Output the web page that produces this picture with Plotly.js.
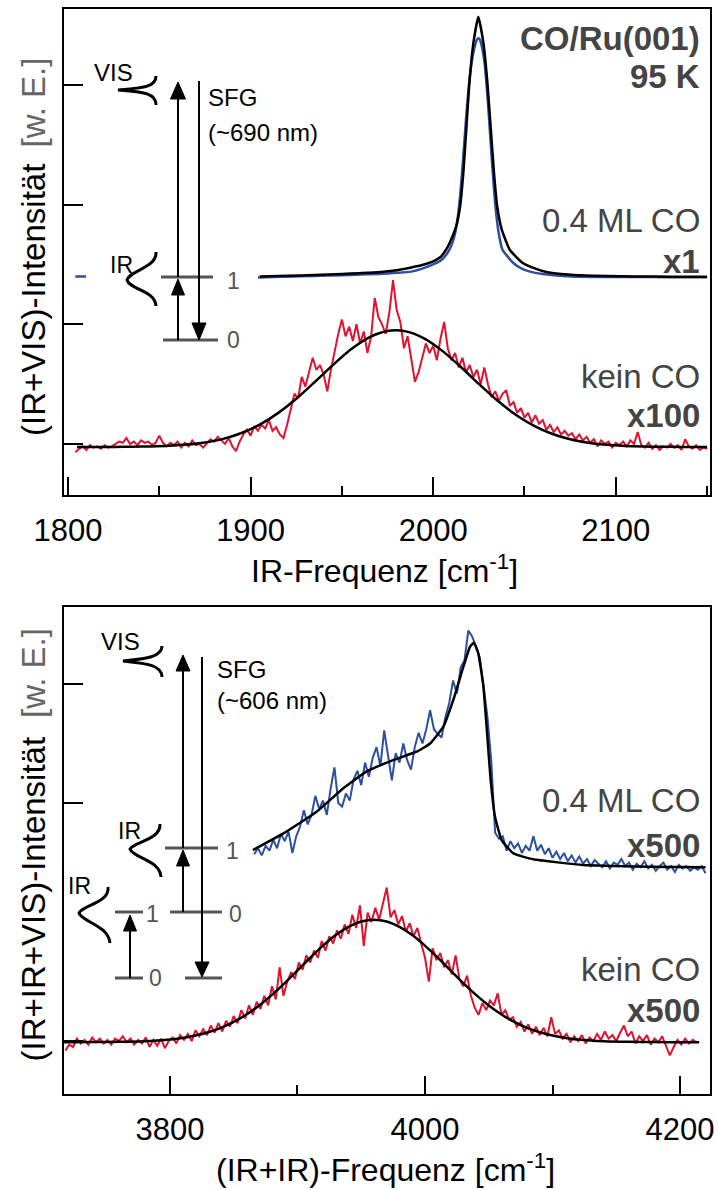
<!DOCTYPE html>
<html>
<head>
<meta charset="utf-8">
<script src="https://cdn.plot.ly/plotly-3.0.1.min.js"></script>
<style>
  html, body { margin: 0; padding: 0; background: #fff; }
  #chart { width: 718px; height: 1190px; }
</style>
</head>
<body>
<div id="chart"></div>
<script>
// ===== Upper panel: (IR+VIS) SFG spectra, IR-Frequenz in cm^-1 =====
// kein CO (x100), sampled every 2 cm^-1 from 1804
const redTopStart = 1804, redTopStep = 2;
const redTopY = [
  -0.07,-0.04,-0.02,-0.05,-0.01,-0.03,-0.02,-0.04,-0.01,-0.03,-0.02,0.0,0.02,0.01,0.05,0.0,0.02,-0.01,0.03,0.01,
  0.02,-0.01,0.01,0.07,0.01,-0.02,0.01,-0.01,0.02,-0.03,0.01,-0.02,0.03,-0.01,
  0.0,-0.03,0.01,0.04,0.02,0.06,0.03,0.0,0.05,-0.02,-0.06,0.02,0.08,0.12,0.07,0.15,0.11,0.16,0.13,0.2,0.11,0.14,0.08,0.05,0.16,
  0.3,0.42,0.38,0.56,0.48,0.6,0.72,0.62,0.66,0.58,0.44,0.62,0.78,0.92,1.04,0.9,0.98,0.86,1.0,0.84,0.94,0.76,0.9,1.22,1.06,1.0,0.92,1.1,1.37,1.12,1.02,0.8,0.9,0.72,0.52,
  0.6,0.72,0.84,0.76,0.82,0.7,0.88,1.02,0.8,0.7,0.76,0.64,0.72,0.6,0.66,0.56,0.62,0.5,0.64,0.5,0.39,0.44,0.36,0.42,0.45,0.32,0.35,0.26,0.3,0.22,0.26,0.18,0.24,0.17,0.2,
  0.12,0.16,0.1,0.14,0.08,0.11,0.07,0.09,0.04,0.08,0.03,0.06,0.01,0.04,-0.02,0.03,0.0,0.02,-0.03,0.01,-0.01,0.02,-0.02,0.03,0.0,0.1,-0.01,-0.03,0.01,-0.04,-0.01,-0.05,-0.02,-0.03,0.0,-0.03,-0.01,-0.05,0.04,-0.02,-0.04,-0.01,-0.05,-0.03,-0.04
];
// Gaussian fit of kein CO
const fitRedTopX = [1805,1815,1825,1835,1845,1855,1865,1875,1885,1895,1905,1915,1925,1935,1945,1955,1965,1975,1985,1995,
  2005,2015,2025,2035,2045,2055,2065,2075,2085,2095,2105,2115,2125,2135,2145,2150];
const fitRedTopY = [-0.025,-0.025,-0.024,-0.023,-0.02,-0.015,-0.005,0.013,0.043,0.092,0.162,0.258,0.378,0.516,0.659,0.791,0.891,0.944,0.941,0.883,
  0.778,0.645,0.502,0.365,0.247,0.154,0.086,0.04,0.011,-0.007,-0.016,-0.021,-0.023,-0.024,-0.025,-0.025];
// 0.4 ML CO (x1)
const blueTopX = [1804,1810,1830,1860,1890,1905,1920,1935,1950,1960,1970,1980,1988,1994,2000,2004,2008,2010,2012,2014,
  2016,2018,2020,2022,2024,2025,2026,2028,2030,2032,2034,2036,2038,2040,2044,2048,2053,2060,2066,2076,2090,2110,2130,2150];
const blueTopY = [1.40,1.40,1.39,1.39,1.395,1.392,1.398,1.404,1.41,1.415,1.42,1.43,1.44,1.465,1.50,1.53,1.60,1.66,1.76,1.96,
  2.30,2.72,3.06,3.27,3.38,3.39,3.36,3.20,2.85,2.40,2.00,1.75,1.62,1.58,1.51,1.47,1.44,1.42,1.41,1.40,1.396,1.395,1.394,1.393];
// Fit of 0.4 ML CO
const fitBlueTopX = [1905,1920,1935,1950,1960,1970,1980,1988,1994,2000,2004,2006.5,2009,2012.5,2014.7,2016.5,2018,2019.8,2022,2024.7,
  2027.5,2029.7,2031.7,2033.3,2035.1,2037.6,2042,2049,2056,2062,2070,2080,2095,2110,2130,2150];
const fitBlueTopY = [1.40,1.405,1.412,1.42,1.427,1.435,1.452,1.475,1.495,1.525,1.562,1.61,1.679,1.813,1.98,2.264,2.598,3.013,3.348,3.57,
  3.35,3.016,2.598,2.264,1.98,1.788,1.621,1.512,1.465,1.437,1.42,1.41,1.403,1.40,1.398,1.397];

// ===== Lower panel: (IR+IR+VIS) spectra, (IR+IR)-Frequenz in cm^-1 =====
// kein CO (x500), sampled every 3 cm^-1 from 3718
const redBotStart = 3718, redBotStep = 3;
const redBotY = [
  -0.08,-0.03,-0.05,0.02,-0.02,0.01,-0.03,0.03,-0.01,0.02,-0.02,0.01,-0.03,0.02,0.0,0.04,-0.01,0.02,-0.03,0.01,
  -0.02,0.03,-0.05,0.01,-0.04,0.02,-0.06,0.0,0.03,-0.02,0.05,0.01,0.06,0.0,0.09,0.04,0.1,0.05,0.13,0.07,
  0.15,0.08,0.17,0.12,0.21,0.15,0.26,0.19,0.3,0.22,0.33,0.27,0.38,0.3,0.46,0.35,0.62,0.38,0.5,0.58,
  0.52,0.66,0.6,0.72,0.66,0.76,0.7,0.84,0.76,0.88,0.82,0.93,0.86,0.98,0.9,1.06,0.95,1.14,0.8,1.08,
  1.0,1.12,1.02,1.16,1.29,1.04,1.1,0.98,1.05,0.92,0.99,0.88,0.95,0.82,0.7,0.5,0.78,0.68,0.74,0.62,
  0.68,0.56,0.72,0.52,0.46,0.55,0.38,0.28,0.22,0.32,0.26,0.34,0.3,0.4,0.22,0.26,0.18,0.2,0.12,0.16,
  0.08,0.14,0.06,0.12,0.05,0.11,0.04,0.2,0.06,0.09,0.02,0.06,-0.01,0.04,0.0,0.05,-0.02,0.03,0.0,0.06,
  0.01,0.08,0.02,0.05,0.0,0.07,0.13,0.04,0.08,-0.02,0.04,0.0,0.05,-0.03,0.02,-0.01,0.04,-0.04,-0.12,-0.05,
  0.01,-0.03,0.02,-0.02,0.01,-0.01
];
// Gaussian fit of kein CO
const fitRedBotX = [3717,3740,3760,3780,3790,3800,3810,3820,3830,3840,3850,3860,3870,3880,3890,3900,3910,3920,3930,3940,3950,3960,
  3970,3980,3990,4000,4010,4020,4030,4040,4050,4060,4070,4080,4090,4100,4110,4120,4130,4140,4160,4180,4200,4215];
const fitRedBotY = [-0.01,-0.009,-0.007,-0.002,0.004,0.013,0.026,0.046,0.074,0.111,0.161,0.223,0.299,0.388,0.487,0.593,0.70,0.802,0.891,0.96,1.005,1.02,
  1.005,0.96,0.891,0.802,0.70,0.593,0.487,0.388,0.299,0.223,0.161,0.111,0.074,0.046,0.026,0.013,0.004,-0.002,-0.007,-0.009,-0.01,-0.01];
// 0.4 ML CO (x500), sampled every 3 cm^-1 from 3866
const blueBotStart = 3866, blueBotStep = 3;
const blueBotY = [
  1.57,1.62,1.56,1.64,1.6,1.69,1.62,1.74,1.68,1.76,1.58,1.72,1.8,1.94,1.82,1.9,2.06,1.95,2.02,1.9,
  2.12,2.3,2.0,1.97,2.08,2.02,2.2,2.27,2.15,2.34,2.22,2.38,2.47,2.31,2.61,2.4,2.19,2.42,2.34,2.5,
  2.36,2.28,2.47,2.59,2.5,2.62,2.78,2.62,2.58,2.55,2.72,2.84,3.03,2.92,3.14,3.2,3.45,3.4,3.3,3.22,
  2.98,2.72,2.35,1.75,1.7,1.72,1.6,1.68,1.62,1.66,1.58,1.64,1.6,1.72,1.6,1.65,1.57,1.62,1.54,1.59,
  1.53,1.58,1.51,1.56,1.5,1.55,1.49,1.53,1.47,1.52,1.49,1.46,1.51,1.45,1.5,1.48,1.53,1.47,1.5,1.44,
  1.49,1.46,1.51,1.45,1.48,1.43,1.47,1.5,1.44,1.47,1.42,1.48,1.45,1.47,1.43,1.46,1.44,1.47,1.41
];
// Fit of 0.4 ML CO
const fitBlueBotX = [3865,3889,3915,3936,3954,3975,3993.5,4004,4014.4,4022.2,4030.1,4035.3,4038.4,4041.8,4045.8,4048.9,4051.5,4054.9,
  4060.1,4069.3,4085,4124,4176,4220];
const fitBlueBotY = [1.605,1.745,1.927,2.124,2.263,2.361,2.431,2.5,2.641,2.866,3.145,3.313,3.347,3.258,2.977,2.557,2.193,1.885,
  1.689,1.577,1.527,1.479,1.465,1.46];

// ===== styling =====
const FONT = 'Liberation Sans, Arial, Helvetica, sans-serif';
const RED = '#e0122e';
const BLUE = '#2c4f9e';
const INK = '#000';
const GREY = '#444';
const LEVEL = '#555';

const W = 718, H = 1190;
const X = p => p / W;          // pixel column -> paper x
const Y = p => 1 - p / H;      // pixel row    -> paper y

function grid(start, step, n) {
  const out = [];
  for (let i = 0; i < n; i++) out.push(start + step * i);
  return out;
}

function lineTrace(x, y, xa, ya, color, width, smooth) {
  return {
    x, y, xaxis: xa, yaxis: ya, type: 'scatter', mode: 'lines', hoverinfo: 'skip',
    line: Object.assign({ color, width }, smooth ? { shape: 'spline', smoothing: smooth } : {})
  };
}

const traces = [
  lineTrace(grid(redTopStart, redTopStep, redTopY.length), redTopY, 'x', 'y', RED, 2),
  lineTrace(fitRedTopX, fitRedTopY, 'x', 'y', INK, 2.5, 0.8),
  lineTrace(blueTopX, blueTopY, 'x', 'y', BLUE, 2.5, 0.5),
  lineTrace(fitBlueTopX, fitBlueTopY, 'x', 'y', INK, 2.5, 0.4),
  lineTrace(grid(redBotStart, redBotStep, redBotY.length), redBotY, 'x2', 'y2', RED, 2),
  lineTrace(fitRedBotX, fitRedBotY, 'x2', 'y2', INK, 2.5, 0.8),
  lineTrace(grid(blueBotStart, blueBotStep, blueBotY.length), blueBotY, 'x2', 'y2', BLUE, 2),
  lineTrace(fitBlueBotX, fitBlueBotY, 'x2', 'y2', INK, 2.5, 0.4)
];

// ----- level-scheme drawings (positions in page pixels) -----
const shapes = [];
function seg(x0, y0, x1, y1, color, width) {
  shapes.push({ type: 'line', xref: 'paper', yref: 'paper', layer: 'above',
    x0: X(x0), y0: Y(y0), x1: X(x1), y1: Y(y1), line: { color, width } });
}
function box(x0, y0, x1, y1) {
  shapes.push({ type: 'rect', xref: 'paper', yref: 'paper', layer: 'above',
    x0: X(x0), y0: Y(y0), x1: X(x1), y1: Y(y1), fillcolor: '#fff', line: { width: 0 } });
}
function head(tx, ty, baseY, hw) {
  const p = `M${X(tx)},${Y(ty)} L${X(tx - hw)},${Y(baseY)} L${X(tx + hw)},${Y(baseY)} Z`;
  shapes.push({ type: 'path', xref: 'paper', yref: 'paper', layer: 'above', path: p,
    fillcolor: INK, line: { color: INK, width: 1 } });
}
function arrow(x, fromY, tipY, baseY, hw) {
  seg(x, fromY, x, baseY + (baseY > tipY ? -2 : 2), INK, 2);
  head(x, tipY, baseY, hw);
}
// squiggle: top end, left tip, bottom end (cubic curves)
function wave(pts) {
  const [a, b, c, d, e, f, g] = pts;
  const P = q => `${X(q[0])},${Y(q[1])}`;
  const p = `M${P(a)} C${P(b)} ${P(c)} ${P(d)} C${P(e)} ${P(f)} ${P(g)}`;
  shapes.push({ type: 'path', xref: 'paper', yref: 'paper', layer: 'above', path: p,
    line: { color: INK, width: 3 } });
}

// upper scheme
box(86, 60, 258, 352);
seg(161, 277, 213, 277, LEVEL, 3);
seg(163, 340, 218, 340, LEVEL, 3);
arrow(178, 277, 82, 99, 7.5);
arrow(178, 340, 279, 295, 6.5);
arrow(199, 81, 340, 323, 7);
wave([[156, 76], [156, 88], [140, 88], [118, 90], [140, 92], [156, 92], [156, 105]]);
wave([[156, 252], [157, 268], [130, 270], [127, 280], [130, 290], [155, 290], [156, 306]]);

// lower scheme
seg(165, 848, 218, 848, LEVEL, 3);
seg(170, 912, 222, 912, LEVEL, 3);
seg(115, 912, 143, 912, LEVEL, 3);
seg(115, 978, 143, 978, LEVEL, 3);
seg(185, 978, 222, 978, LEVEL, 3);
arrow(183, 848, 655, 671, 7);
arrow(183, 912, 850, 866, 6.5);
arrow(202, 657, 977, 962, 7);
arrow(130, 978, 915, 931, 6.5);
wave([[162, 646], [162, 658], [142, 659], [123, 661], [142, 663], [162, 664], [162, 677]]);
wave([[160, 824], [161, 840], [133, 842], [130, 849], [133, 858], [160, 860], [161, 877]]);
wave([[108, 887], [110, 903], [82, 905], [79, 913], [82, 922], [108, 925], [110, 943]]);

// ----- text -----
const annotations = [];
function note(text, px, py, size, color, xanchor, extra) {
  annotations.push(Object.assign({
    text, x: X(px), y: Y(py), xref: 'paper', yref: 'paper', showarrow: false,
    xanchor: xanchor || 'center', yanchor: 'middle',
    font: { family: FONT, size, color }
  }, extra || {}));
}

// sample / scale labels
note('<b>CO/Ru(001)</b>', 702, 38.5, 33, GREY, 'right');
note('<b>95 K</b>', 702, 76.5, 33, GREY, 'right');
note('0.4 ML CO', 702, 220, 33, GREY, 'right');
note('<b>x1</b>', 702, 261.5, 33, GREY, 'right');
note('kein CO', 702, 376.5, 33, GREY, 'right');
note('<b>x100</b>', 702, 415.5, 33, GREY, 'right');
note('0.4 ML CO', 702, 800.5, 33, GREY, 'right');
note('<b>x500</b>', 702, 845, 33, GREY, 'right');
note('kein CO', 702, 969.5, 33, GREY, 'right');
note('<b>x500</b>', 702, 1010, 33, GREY, 'right');

// scheme labels
note('VIS', 113, 72, 24, INK);
note('SFG', 206, 97, 24, INK, 'left');
note('(~690 nm)', 206, 132, 24, INK, 'left');
note('IR', 122, 265, 23, INK);
note('1', 233, 281, 23, LEVEL);
note('0', 233, 340, 23, LEVEL);

note('VIS', 120, 641, 24, INK);
note('SFG', 215, 669, 24, INK, 'left');
note('(~606 nm)', 215, 700, 24, INK, 'left');
note('IR', 129, 831, 23, INK);
note('1', 232, 851, 23, LEVEL);
note('0', 236, 914, 23, LEVEL);
note('IR', 79, 886, 23, INK);
note('1', 152, 914, 23, LEVEL);
note('0', 155, 978, 23, LEVEL);

// axis titles (vertical ones run bottom-to-top; unit part in grey)
const rot = { textangle: -90 };
note('(IR+VIS)-Intensität', 33, 300, 33, INK, 'center', rot);
note('[w. E.]', 33, 102.5, 33, '#666', 'center', rot);
note('(IR+IR+VIS)-Intensität', 33, 899.5, 33, INK, 'center', rot);
note('[w. E.]', 33, 673, 33, '#666', 'center', rot);
note('IR-Frequenz [cm<sup>-1</sup>]', 384, 569, 32, INK);
note('(IR+IR)-Frequenz [cm<sup>-1</sup>]', 385, 1168, 32, INK);

// ----- axes -----
function xAxis(anchor, range, tick0, dtick, minorStep) {
  return {
    anchor, domain: [X(64), X(710)], range, tick0, dtick, tickmode: 'linear',
    ticks: 'inside', ticklen: 18, tickwidth: 2, tickcolor: INK,
    minor: { dtick: minorStep, tick0, ticks: 'inside', ticklen: 9, tickwidth: 2, tickcolor: INK, showgrid: false },
    showline: true, linewidth: 2, linecolor: INK, mirror: true,
    showgrid: false, zeroline: false, fixedrange: true,
    ticklabelstandoff: 7,
    tickfont: { family: FONT, size: 31, color: INK }
  };
}
function yAxis(anchor, domain, range, tickvals) {
  return {
    anchor, domain, range, tickmode: 'array', tickvals,
    ticks: 'inside', ticklen: 19, tickwidth: 2, tickcolor: INK, showticklabels: false,
    showline: true, linewidth: 2, linecolor: INK, mirror: true,
    showgrid: false, zeroline: false, fixedrange: true
  };
}

const layout = {
  width: W, height: H,
  margin: { l: 0, r: 0, t: 0, b: 0 },
  paper_bgcolor: '#fff', plot_bgcolor: '#fff',
  showlegend: false,
  font: { family: FONT },
  xaxis: xAxis('y', [1797.8, 2151.6], 1800, 100, 50),
  yaxis: yAxis('x', [Y(495), Y(9)], [-0.426, 3.634], [0, 1, 2, 3]),
  xaxis2: xAxis('y2', [3716.9, 4223.5], 3800, 200, 100),
  yaxis2: yAxis('x2', [Y(1094), Y(607)], [-0.445, 3.647], [0, 2, 3]),
  shapes, annotations
};

Plotly.newPlot('chart', traces, layout, { staticPlot: true, displayModeBar: false });
</script>
</body>
</html>
